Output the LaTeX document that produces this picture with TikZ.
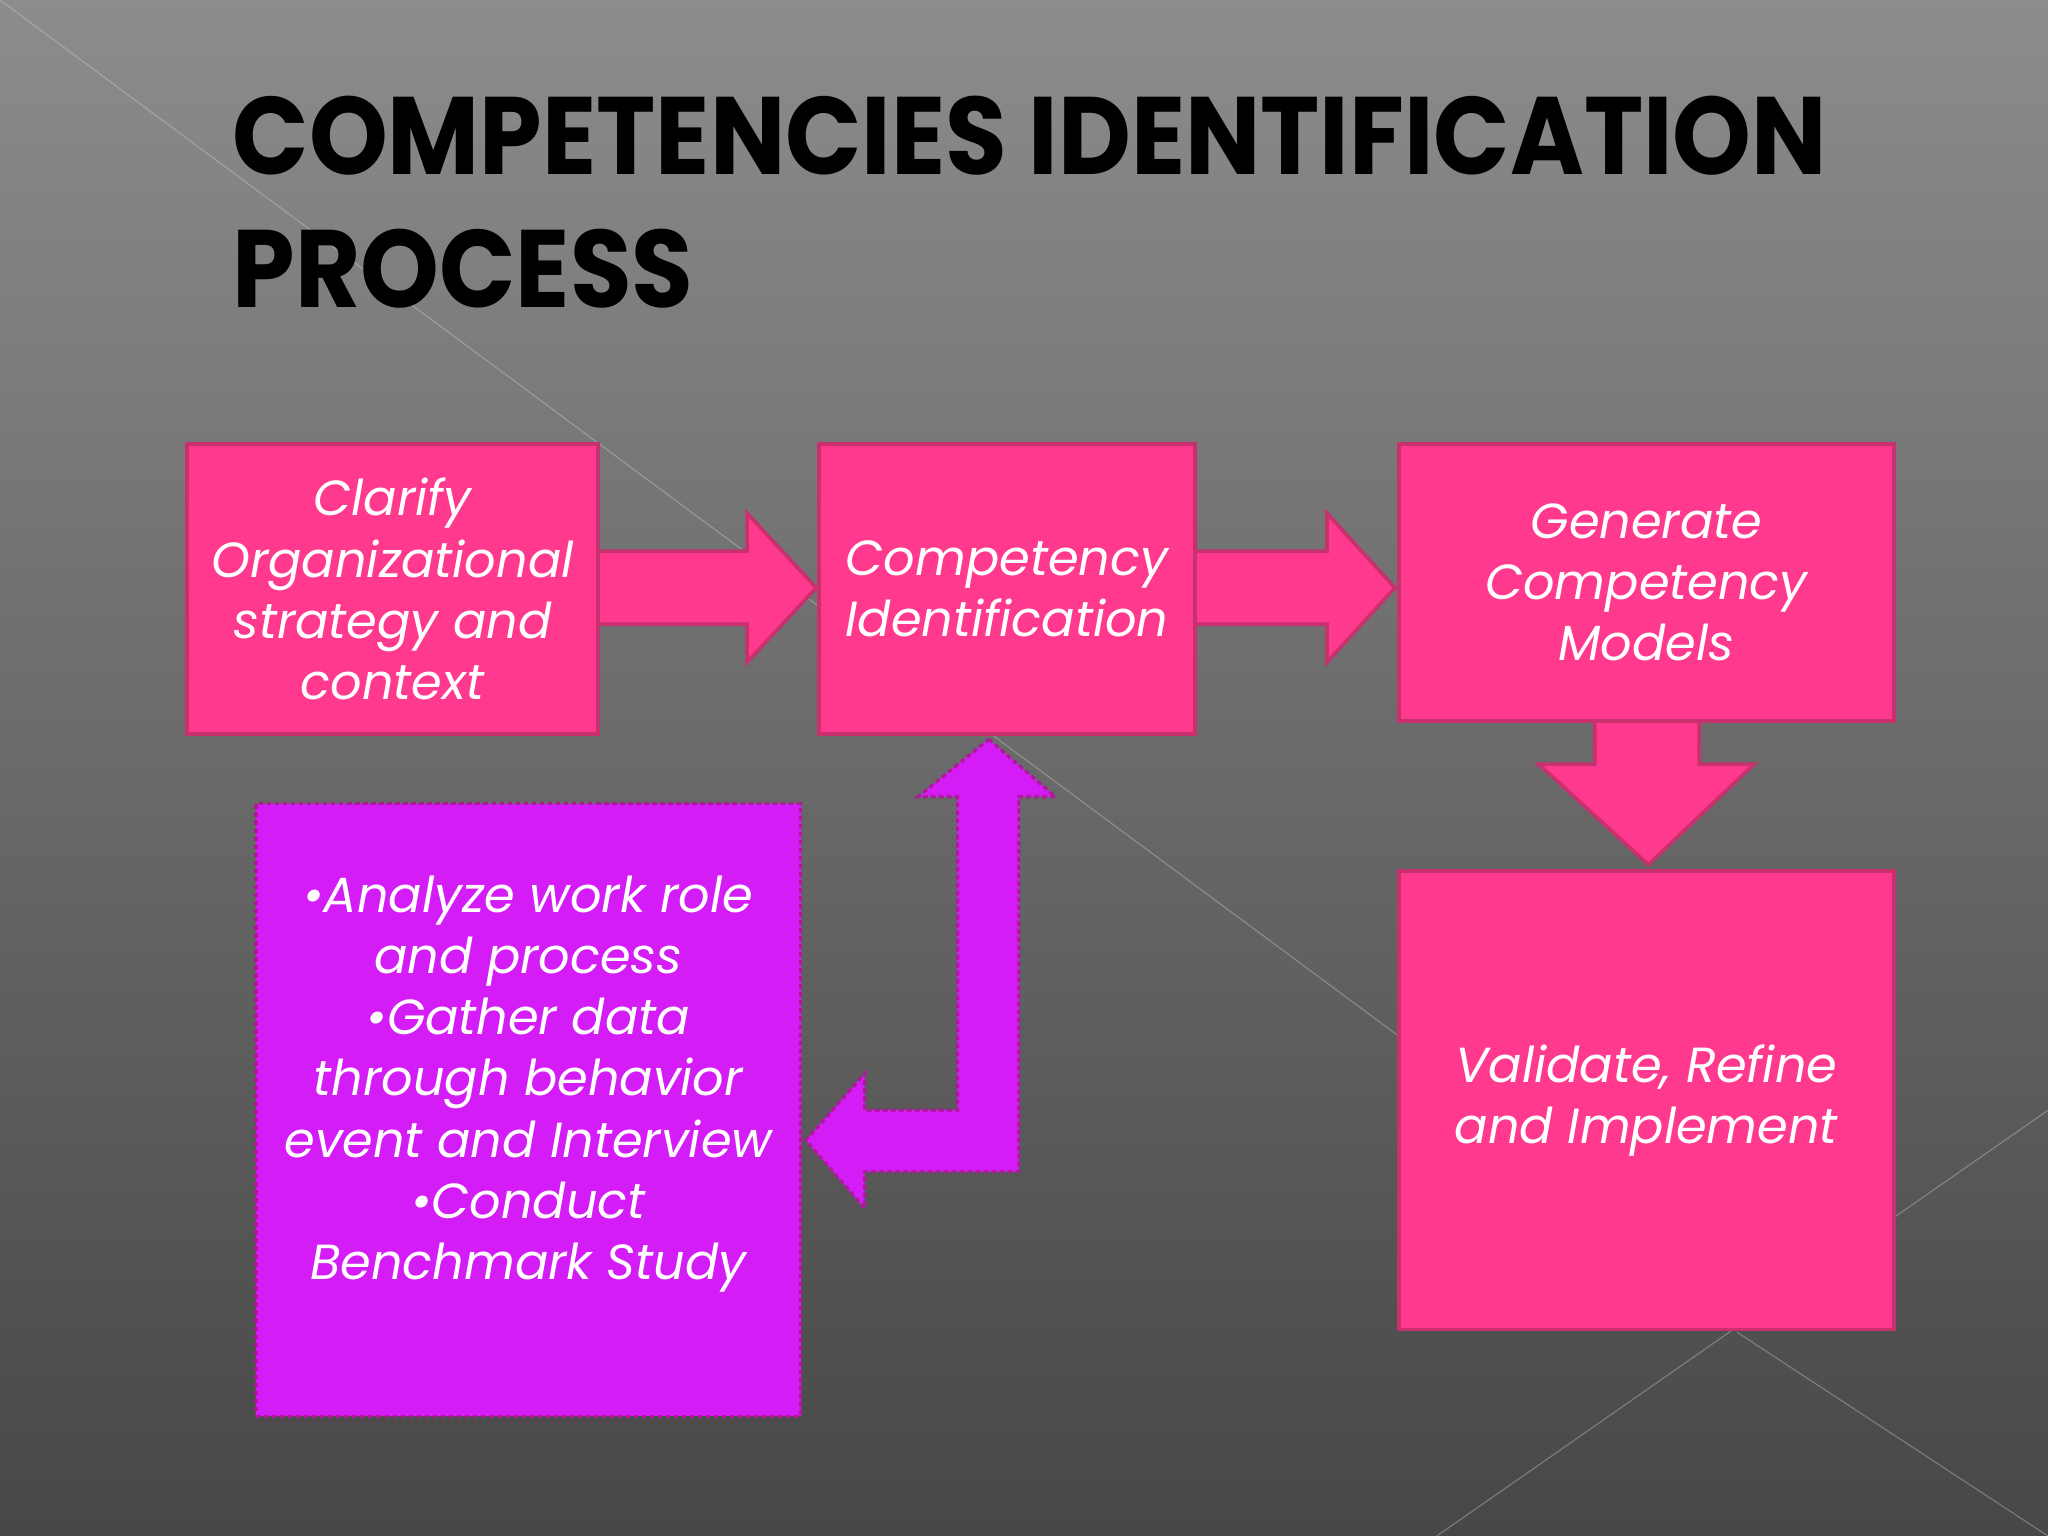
\documentclass[tikz,border=0pt]{standalone}
\usepackage{fontspec}
\setmainfont{Poppins}
\begin{document}
\begin{tikzpicture}[x=0.02cm,y=-0.02cm,
  pbox/.style={draw=pinkedge,fill=pinkfill,line width=1.6pt},
  ptext/.style={text=white,align=center,font=\fontsize{21.5}{26.7}\selectfont\itshape},
  purp/.style={draw=purpedge,fill=purpfill,line width=1.4pt,dash pattern=on 2pt off 1.5pt}]
\definecolor{pinkfill}{HTML}{FF3A8E}
\definecolor{pinkedge}{HTML}{C8306E}
\definecolor{purpfill}{HTML}{D41CF6}
\definecolor{purpedge}{HTML}{B0189C}
\definecolor{bgtop}{HTML}{8C8C8C}
\definecolor{bgbot}{HTML}{474747}
\shade[top color=bgtop,bottom color=bgbot] (0,0) rectangle (1568,1176);
\useasboundingbox (0,0) rectangle (1568,1176);
\draw[white!70!gray,opacity=0.35,line width=0.5pt] (0,0) -- (1080,800) (1330,1020) -- (1568,1176) (1100,1176) -- (1568,850);
% title
\node[anchor=west,text=black,font=\fontsize{48}{58}\selectfont\bfseries,align=left] (title) at (172,155)
 {\scalebox{0.91}[1]{COMPETENCIES IDENTIFICATION}\\\scalebox{0.91}[1]{PROCESS}};
% boxes
\node[pbox,minimum width=315*0.02cm,minimum height=222*0.02cm,ptext] (b1) at (300.5,451) {Clarify\\Organizational\\strategy and\\context};
\node[pbox,minimum width=288*0.02cm,minimum height=222*0.02cm,ptext] (b2) at (771,451) {Competency\\Identification};
\node[pbox,minimum width=379*0.02cm,minimum height=212*0.02cm,ptext] (b3) at (1260.5,446) {Generate\\Competency\\Models};
\node[pbox,minimum width=379*0.02cm,minimum height=351*0.02cm,ptext] (b4) at (1260.5,842.5) {Validate, Refine\\and Implement};
\node[purp,minimum width=417*0.02cm,minimum height=469*0.02cm,anchor=north] (b5) at (404.5,614) {};
\node[ptext] (t5) at (404.5,830) {\textbullet Analyze work role\\and process\\\textbullet Gather data\\through behavior\\event and Interview\\\textbullet Conduct\\Benchmark Study};
% arrows
\draw[pbox] (b1.east|-{(0,422)}) -- (572,422) -- (572,393) -- (625,450) -- (572,507) -- (572,478) -- (b1.east|-{(0,478)});
\draw[pbox] (b2.east|-{(0,422)}) -- (1016,422) -- (1016,393) -- (1068,450) -- (1016,507) -- (1016,478) -- (b2.east|-{(0,478)});
\draw[pbox] ({(1221,0)}|-b3.south) -- (1221,585) -- (1178,585) -- (1262,662) -- (1343,585) -- (1301,585) -- ({(1301,0)}|-b3.south);
\draw[purp] (757,566) -- (808,610) -- (780,610) -- (780,897) -- (662,897) -- (662,925) -- (617,873) -- (662,822) -- (662,850) -- (733,850) -- (733,610) -- (703,610) -- cycle;
\end{tikzpicture}
\end{document}
